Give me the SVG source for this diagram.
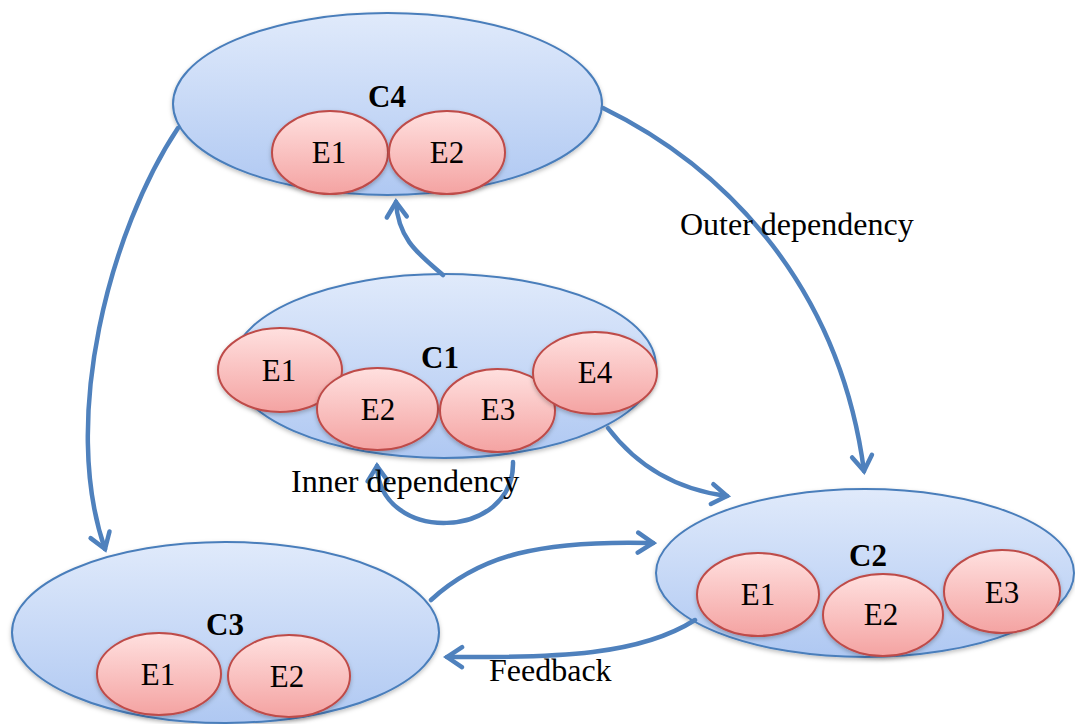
<svg xmlns="http://www.w3.org/2000/svg" width="1075" height="724" viewBox="0 0 1075 724">
  <defs>
    <linearGradient id="gBlue" x1="0" y1="0" x2="0" y2="1">
      <stop offset="0" stop-color="#e0eafb"/>
      <stop offset="1" stop-color="#afc8f2"/>
    </linearGradient>
    <linearGradient id="gRed" x1="0" y1="0" x2="0" y2="1">
      <stop offset="0" stop-color="#ffe0df"/>
      <stop offset="1" stop-color="#f4a3a2"/>
    </linearGradient>
    <filter id="shadow" x="-10%" y="-10%" width="120%" height="130%">
      <feDropShadow dx="0" dy="2" stdDeviation="2" flood-color="#000" flood-opacity="0.25"/>
    </filter>
    <marker id="arrow" viewBox="-22 -14 26 28" refX="0" refY="0" markerWidth="26" markerHeight="28" markerUnits="userSpaceOnUse" orient="auto">
      <path d="M-15,-10 L0,0 L-15,10" fill="none" stroke="#4f81bd" stroke-width="4.5" stroke-linecap="round"/>
    </marker>
  </defs>
  <style>
    .cluster { fill: url(#gBlue); stroke: #4a7ebb; stroke-width: 2; filter: url(#shadow); }
    .element { fill: url(#gRed); stroke: #be4b48; stroke-width: 2; filter: url(#shadow); }
    .ctitle { font-family: "Liberation Serif", serif; font-size: 31px; font-weight: bold; fill: #000; text-anchor: middle; }
    .etext { font-family: "Liberation Serif", serif; font-size: 31px; fill: #000; text-anchor: middle; }
    .label { font-family: "Liberation Serif", serif; font-size: 32px; fill: #000; }
    .conn { fill: none; stroke: #4f81bd; stroke-width: 4.5; stroke-linecap: round; marker-end: url(#arrow); }
  </style>

  <rect width="1075" height="724" fill="#fff"/>

  <!-- C4 -->
  <g id="C4">
    <ellipse class="cluster" cx="387.5" cy="104" rx="214.5" ry="91"/>
    <text class="ctitle" x="387" y="107">C4</text>
    <g id="C4-E1">
      <ellipse class="element" cx="330" cy="152.5" rx="58" ry="41.5"/>
      <text class="etext" x="329" y="163">E1</text>
    </g>
    <g id="C4-E2">
      <ellipse class="element" cx="447" cy="152.5" rx="58" ry="41.5"/>
      <text class="etext" x="447" y="163">E2</text>
    </g>
  </g>

  <!-- C1 -->
  <g id="C1">
    <ellipse class="cluster" cx="444" cy="366" rx="212" ry="92"/>
    <text class="ctitle" x="440" y="368">C1</text>
    <g id="C1-E1">
      <ellipse class="element" cx="280" cy="370" rx="62" ry="42"/>
      <text class="etext" x="279" y="381">E1</text>
    </g>
    <g id="C1-E2">
      <ellipse class="element" cx="377.5" cy="409" rx="60.5" ry="41"/>
      <text class="etext" x="378" y="420">E2</text>
    </g>
    <g id="C1-E3">
      <ellipse class="element" cx="497.5" cy="410.5" rx="57.5" ry="41.5"/>
      <text class="etext" x="498" y="420">E3</text>
    </g>
    <g id="C1-E4">
      <ellipse class="element" cx="595" cy="373" rx="62" ry="41"/>
      <text class="etext" x="595" y="383">E4</text>
    </g>
  </g>

  <!-- C3 -->
  <g id="C3">
    <ellipse class="cluster" cx="225.5" cy="632.5" rx="213.5" ry="90.5"/>
    <text class="ctitle" x="225" y="635">C3</text>
    <g id="C3-E1">
      <ellipse class="element" cx="159" cy="674" rx="62" ry="41"/>
      <text class="etext" x="158" y="685">E1</text>
    </g>
    <g id="C3-E2">
      <ellipse class="element" cx="289" cy="676" rx="61" ry="41"/>
      <text class="etext" x="287" y="687">E2</text>
    </g>
  </g>

  <!-- C2 -->
  <g id="C2">
    <ellipse class="cluster" cx="865" cy="573" rx="209" ry="84"/>
    <text class="ctitle" x="868" y="566">C2</text>
    <g id="C2-E1">
      <ellipse class="element" cx="758" cy="594.5" rx="61" ry="41.5"/>
      <text class="etext" x="758" y="605">E1</text>
    </g>
    <g id="C2-E2">
      <ellipse class="element" cx="883" cy="615" rx="60" ry="41"/>
      <text class="etext" x="881" y="625">E2</text>
    </g>
    <g id="C2-E3">
      <ellipse class="element" cx="1002" cy="591.5" rx="58" ry="41.5"/>
      <text class="etext" x="1002" y="603">E3</text>
    </g>
  </g>

  <!-- connectors -->
  <g id="connectors">
    <path class="conn" d="M443,275 C420,255 398,240 396,202"/>
    <path class="conn" d="M178,128 C110,230 60,420 105,549"/>
    <path class="conn" d="M603,108 C730,170 840,290 864,471"/>
    <path class="conn" d="M608,428 C640,470 680,490 727,496"/>
    <path class="conn" d="M513,462 C515,540 380,545 377,466"/>
    <path class="conn" d="M431,600 C480,555 540,540 653,543"/>
    <path class="conn" d="M695,620 C640,655 560,658 447,657"/>
  </g>

  <!-- connector labels -->
  <g id="labels">
    <text class="label" x="680" y="235">Outer dependency</text>
    <text class="label" x="291" y="492">Inner dependency</text>
    <text class="label" x="489" y="681">Feedback</text>
  </g>
</svg>
